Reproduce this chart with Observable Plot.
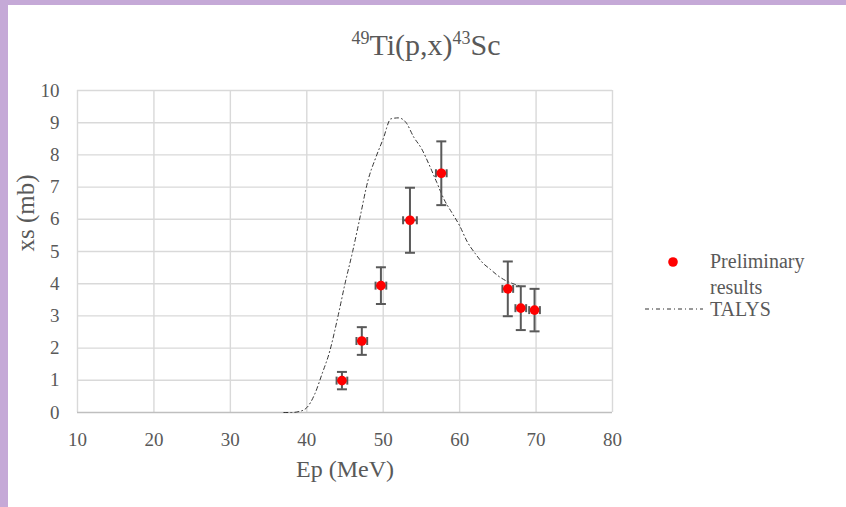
<!DOCTYPE html>
<html>
<head>
<meta charset="utf-8">
<script src="https://cdn.jsdelivr.net/npm/d3@7"></script>
<script src="https://cdn.jsdelivr.net/npm/@observablehq/plot@0.6"></script>
<style>
  html, body { margin: 0; padding: 0; background: #fff; }
  #page { position: relative; width: 846px; height: 507px; background: #fff; overflow: hidden; font-family: "Liberation Serif", "Times New Roman", serif; color: #595959; }
  #borderL { position: absolute; left: 0; top: 0; width: 8px; height: 507px; background: #c5a9d7; }
  #borderT { position: absolute; left: 0; top: 0; width: 846px; height: 5px; background: #c5a9d7; }
  #title { position: absolute; left: 7px; width: 838px; top: 30px; text-align: center; font-size: 30px; line-height: 30px; white-space: nowrap; }
  #title sup { font-size: 0.6em; vertical-align: 0; position: relative; top: -0.6em; }
  #chart { position: absolute; left: 8px; top: 75px; }
  #legend { position: absolute; left: 640px; top: 248px; font-size: 20px; line-height: 26px; }
  .lg { position: absolute; white-space: nowrap; }
</style>
</head>
<body>
<div id="page">
  <div id="chart"></div>
  <div id="title"><sup>49</sup>Ti(p,x)<sup>43</sup>Sc</div>
  <div id="legend"></div>
  <div id="borderL"></div>
  <div id="borderT"></div>
</div>
<script>
// Tick values
const xTicks = [10, 20, 30, 40, 50, 60, 70, 80];
const yTicks = [0, 1, 2, 3, 4, 5, 6, 7, 8, 9, 10];

// Preliminary results
const energy    = [44.6, 47.2, 49.7, 53.5, 57.6, 66.3, 68.0, 69.8];
const energyErr = [0.7, 0.7, 0.7, 0.9, 0.7, 0.7, 0.7, 0.7];
const xs        = [0.99, 2.22, 3.94, 5.97, 7.43, 3.84, 3.24, 3.18];
const xsErr     = [0.27, 0.43, 0.57, 1.01, 0.99, 0.85, 0.68, 0.66];

// TALYS curve
const talysE  = [37, 38, 39, 40, 41, 42, 43, 44, 45, 46, 47, 48, 49, 50, 51, 52, 53, 54, 55, 56, 57, 58, 59, 60, 61, 62, 63, 64, 65, 66, 67, 68];
const talysXs = [0, 0.0, 0.03, 0.15, 0.55, 1.2, 1.9, 2.9, 4.0, 5.0, 6.1, 7.2, 7.9, 8.5, 9.12, 9.15, 9.0, 8.55, 8.2, 7.7, 7.15, 6.6, 6.2, 5.8, 5.3, 4.95, 4.65, 4.45, 4.25, 4.1, 4.0, 3.92];

// Labels
const titleX = "Ep (MeV)";
const titleY = "xs (mb)";
const legendLabels = ["Preliminary results", "TALYS"];

const points = energy.map((e, i) => ({e, ee: energyErr[i], y: xs[i], ye: xsErr[i]}));
const talys = talysE.map((e, i) => ({e, y: talysXs[i]}));

const capH = { draw(ctx, size) { const r = Math.sqrt(size / Math.PI); ctx.moveTo(-r, 0); ctx.lineTo(r, 0); } };
const capV = { draw(ctx, size) { const r = Math.sqrt(size / Math.PI); ctx.moveTo(0, -r); ctx.lineTo(0, r); } };
const errColor = "#595959";

const chart = Plot.plot({
  width: 838,
  height: 432,
  marginLeft: 69,
  marginRight: 234,
  marginTop: 15,
  marginBottom: 95,
  style: { fontFamily: "Liberation Serif, Times New Roman, serif", fontSize: "19px", color: "#595959", background: "#fff" },
  x: { domain: [10, 80] },
  y: { domain: [0, 10] },
  marks: [
    Plot.ruleX(xTicks, { stroke: "#d9d9d9", strokeWidth: 1.4 }),
    Plot.ruleY(yTicks.filter(d => d > 0), { stroke: "#d9d9d9", strokeWidth: 1.4 }),
    Plot.ruleY([0], { stroke: "#bfbfbf", strokeWidth: 1.6 }),
    Plot.axisX({ ticks: xTicks, tickSize: 0, tickPadding: 20, label: null, tickFormat: d => d }),
    Plot.axisY({ ticks: yTicks, tickSize: 0, tickPadding: 18, label: null, tickFormat: d => d }),
    Plot.text([titleX], { frameAnchor: "bottom", dy: 64, text: d => d, fontSize: 24 }),
    Plot.text([titleY], { frameAnchor: "left", dx: -52, rotate: -90, text: d => d, fontSize: 25 }),
    Plot.line(talys, { x: "e", y: "y", curve: "monotone-x", stroke: "#333333", strokeWidth: 1, strokeDasharray: "4,3,1,3" }),
    Plot.ruleX(points, { x: "e", y1: d => d.y - d.ye, y2: d => d.y + d.ye, stroke: errColor, strokeWidth: 2 }),
    Plot.ruleY(points, { y: "y", x1: d => d.e - d.ee, x2: d => d.e + d.ee, stroke: errColor, strokeWidth: 2 }),
    Plot.dot(points, { x: "e", y: d => d.y + d.ye, symbol: capH, r: 5, fill: "none", stroke: errColor, strokeWidth: 2 }),
    Plot.dot(points, { x: "e", y: d => d.y - d.ye, symbol: capH, r: 5, fill: "none", stroke: errColor, strokeWidth: 2 }),
    Plot.dot(points, { x: d => d.e - d.ee, y: "y", symbol: capV, r: 4, fill: "none", stroke: errColor, strokeWidth: 2 }),
    Plot.dot(points, { x: d => d.e + d.ee, y: "y", symbol: capV, r: 4, fill: "none", stroke: errColor, strokeWidth: 2 }),
    Plot.dot(points, { x: "e", y: "y", r: 4.8, fill: "#ff0000", stroke: "none" })
  ]
});
document.getElementById("chart").appendChild(chart);

// Legend
const legend = document.getElementById("legend");
legend.innerHTML =
  `<svg class="lg" style="left:26px;top:7px" width="14" height="14"><circle cx="7" cy="7" r="4.8" fill="#ff0000"/></svg>` +
  `<div class="lg" style="left:70px;top:0px">${legendLabels[0].split(" ")[0]}</div>` +
  `<div class="lg" style="left:70px;top:26px">${legendLabels[0].split(" ")[1]}</div>` +
  `<svg class="lg" style="left:4px;top:56px" width="60" height="10"><line x1="1" y1="5" x2="59" y2="5" stroke="#333333" stroke-width="1" stroke-dasharray="4,3,1,3"/></svg>` +
  `<div class="lg" style="left:70px;top:48px">${legendLabels[1]}</div>`;
</script>
</body>
</html>
